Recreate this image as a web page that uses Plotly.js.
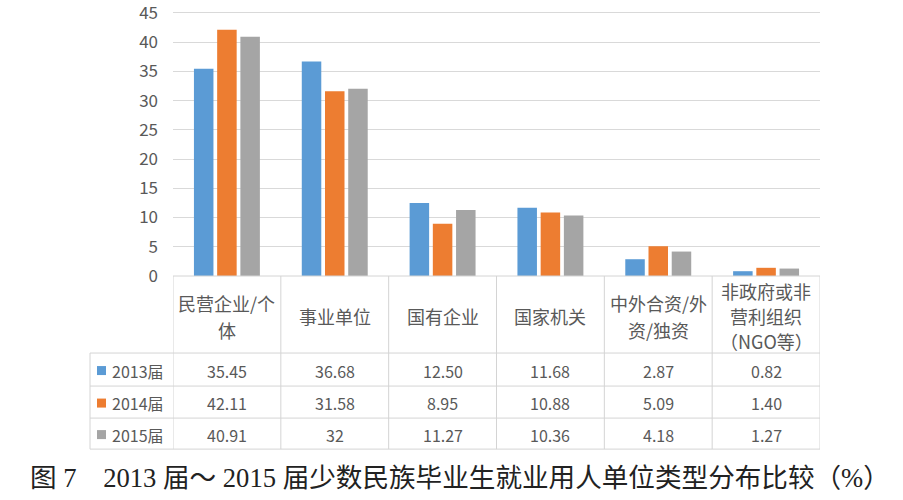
<!DOCTYPE html>
<html>
<head>
<meta charset="utf-8">
<script src="https://cdn.plot.ly/plotly-3.0.1.min.js"></script>
<style>html,body{margin:0;padding:0;background:#fff;}#chart{width:903px;height:500px;}</style>
</head>
<body>
<div id="chart"></div>
<script>
// ---- data ----
const categories = ['民营企业/个体', '事业单位', '国有企业', '国家机关', '中外合资/外资/独资', '非政府或非营利组织（NGO等）'];
const headerLabels = [['民营企业/个', '体'], ['事业单位'], ['国有企业'], ['国家机关'], ['中外合资/外', '资/独资'], ['非政府或非', '营利组织', '（NGO等）']];
const seriesNames = ['2013届', '2014届', '2015届'];
const values2013 = [35.45, 36.68, 12.50, 11.68, 2.87, 0.82];
const values2014 = [42.11, 31.58, 8.95, 10.88, 5.09, 1.40];
const values2015 = [40.91, 32, 11.27, 10.36, 4.18, 1.27];
const yTicks = [0, 5, 10, 15, 20, 25, 30, 35, 40, 45];
const captionText = '图 7　2013 届～ 2015 届少数民族毕业生就业用人单位类型分布比较（%）';

const allValues = [values2013, values2014, values2015];
const colors = ['#5B9BD5', '#ED7D31', '#A5A5A5'];

// ---- layout geometry (pixels) ----
const W = 903, H = 500;
const yMax = 46;
const L = 173, R = 820, B = 276;
const top45 = 13;
const PH = (B - top45) * yMax / 45;
const T = B - PH;
const PW = R - L;
const px = x => (x - L) / PW;
const py = y => (B - y) / PH;

const fontCJK = '"Noto Sans CJK SC", "Noto Sans", sans-serif';
const textColor = '#595959';
const lineColor = '#d4d4d4';

const traces = allValues.map((vals, i) => ({
  type: 'bar',
  name: seriesNames[i],
  x: categories,
  y: vals,
  marker: {color: colors[i]},
  hoverinfo: 'x+y+name'
}));

const rowLines = [353, 386, 418, 449];
const tableLeft = 90;

const shapes = [];
const lineStyle = {color: lineColor, width: 1};
shapes.push({type: 'line', xref: 'paper', yref: 'paper', x0: 0, x1: 1, y0: 0, y1: 0, line: lineStyle});
rowLines.forEach(y => shapes.push({type: 'line', xref: 'paper', yref: 'paper', x0: px(tableLeft), x1: 1, y0: py(y), y1: py(y), line: lineStyle}));
for (let i = 0; i <= categories.length; i++) {
  shapes.push({type: 'line', xref: 'x', yref: 'paper', x0: i - 0.5, x1: i - 0.5, y0: 0, y1: py(rowLines[rowLines.length - 1]), line: lineStyle});
}
shapes.push({type: 'line', xref: 'paper', yref: 'paper', x0: px(tableLeft), x1: px(tableLeft), y0: py(rowLines[0]), y1: py(rowLines[rowLines.length - 1]), line: lineStyle});

const annotations = [];
headerLabels.forEach((lines, i) => {
  const gap = lines.length === 3 ? 25 : 27;
  const first = 316 - gap * (lines.length - 1) / 2;
  lines.forEach((t, k) => {
    annotations.push({xref: 'x', yref: 'paper', x: i, y: py(first + k * gap), xanchor: 'center', yanchor: 'middle',
      text: t, showarrow: false, align: 'center',
      font: {family: fontCJK, size: 18, color: textColor}});
  });
});
const fmt = v => Number.isInteger(v) ? String(v) : v.toFixed(2);
allValues.forEach((vals, r) => {
  const yc = (rowLines[r] + rowLines[r + 1]) / 2 + 1;
  shapes.push({type: 'rect', xref: 'paper', yref: 'paper', x0: px(97), x1: px(106), y0: py(yc - 4.5), y1: py(yc + 4.5),
    fillcolor: colors[r], line: {width: 0}});
  annotations.push({xref: 'paper', yref: 'paper', x: px(110), y: py(yc), xanchor: 'left', yanchor: 'middle',
    text: seriesNames[r], showarrow: false, font: {family: fontCJK, size: 16, color: textColor}});
  vals.forEach((v, i) => {
    annotations.push({xref: 'x', yref: 'paper', x: i, y: py(yc), xanchor: 'center', yanchor: 'middle',
      text: fmt(v), showarrow: false, font: {family: fontCJK, size: 16, color: textColor}});
  });
});
annotations.push({xref: 'paper', yref: 'paper', x: px(460), y: py(478), xanchor: 'center', yanchor: 'middle',
  text: captionText, showarrow: false,
  font: {family: '"Liberation Serif", "Noto Sans CJK SC", serif', size: 26.6, color: '#222222'}});

const layout = {
  width: W, height: H,
  margin: {l: L, r: W - R, t: T, b: H - B, pad: 0},
  paper_bgcolor: '#ffffff', plot_bgcolor: '#ffffff',
  showlegend: false,
  barmode: 'group',
  bargap: 0.354,
  bargroupgap: 0.16,
  xaxis: {type: 'category', showticklabels: false, ticks: '', showgrid: false, zeroline: false, showline: false,
    range: [-0.5, categories.length - 0.5], fixedrange: true},
  yaxis: {range: [0, yMax], tickvals: yTicks, ticktext: yTicks.map(String), showgrid: true, gridcolor: '#d9d9d9', gridwidth: 1,
    zeroline: false, showline: false, ticks: '', ticklabelstandoff: 14, ticklabeloverflow: 'allow',
    tickfont: {family: fontCJK, size: 17, color: textColor}, fixedrange: true},
  shapes: shapes,
  annotations: annotations
};

Plotly.newPlot('chart', traces, layout, {displayModeBar: false, staticPlot: true});
</script>
</body>
</html>
